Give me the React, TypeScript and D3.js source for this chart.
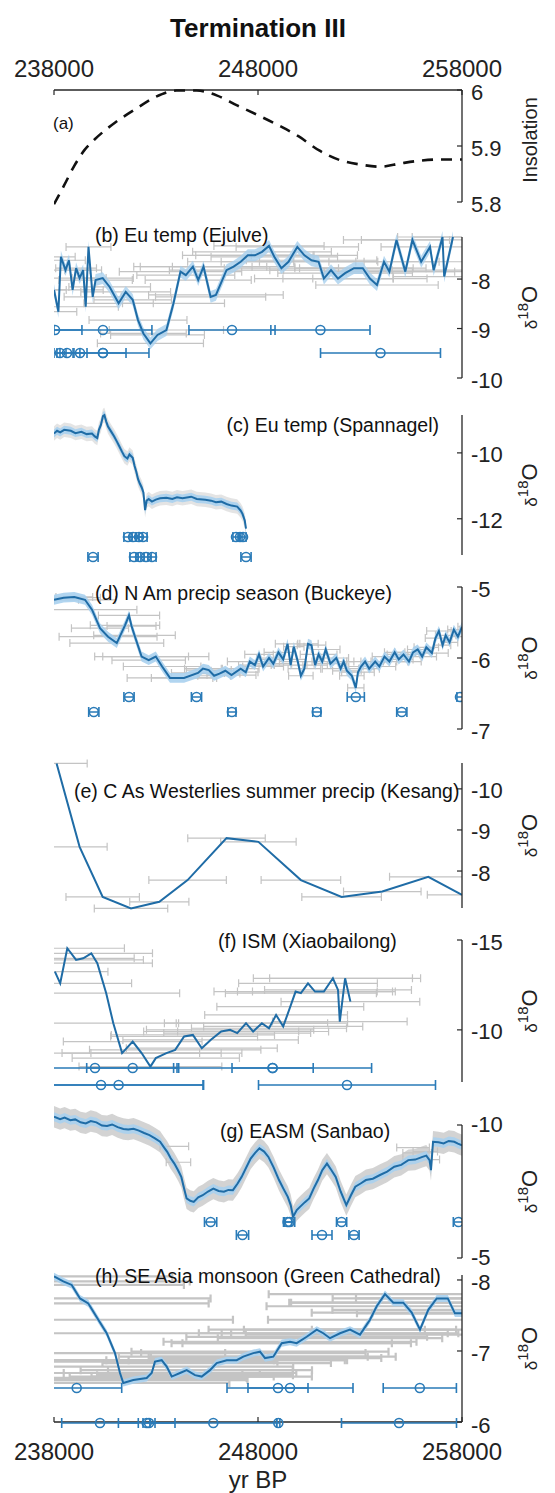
import React from 'react';
import * as d3 from 'd3';

type P = [number, number];
type E = [number, number, number];

// ---- data ----
const ageTicks = [238000, 248000, 258000];

// (a) insolation [age, value]
const insolation: P[] = [
  [238000, 5.796], [238500, 5.83], [239000, 5.865], [239500, 5.893], [240000, 5.912],
  [241000, 5.942], [242000, 5.966], [243000, 5.988], [244000, 5.999], [245000, 5.999],
  [246000, 5.99], [247000, 5.972], [248000, 5.955], [249000, 5.937], [250000, 5.917],
  [251000, 5.892], [252000, 5.875], [253000, 5.867], [254000, 5.863], [255000, 5.869],
  [256000, 5.874], [257000, 5.876], [258000, 5.876],
];

// (b) Ejulve [age, d18O, age error]
const ejulve: E[] = [
  [238000, -8.22, 600], [238216, -8.66, 900], [238338, -7.55, 700], [238564, -7.82, 1200],
  [238735, -7.62, 800], [238912, -8.22, 1500], [239083, -7.78, 1000], [239255, -7.98, 1300],
  [239431, -7.82, 900], [239554, -8.56, 1600], [239691, -7.35, 1100], [239897, -8.36, 1400],
  [240039, -8.02, 1800], [240387, -7.98, 1500], [240730, -8.16, 2000], [241167, -8.49, 1700],
  [241515, -8.26, 2200], [241858, -8.42, 1900], [242118, -8.83, 2400], [242383, -9.1, 2100],
  [242726, -9.3, 2600], [243074, -9.13, 2300], [243510, -9.03, 2800], [243858, -8.49, 2500],
  [244201, -7.85, 3000], [244461, -7.92, 2400], [244809, -7.75, 2900], [245069, -8.02, 2600],
  [245329, -7.75, 3100], [245677, -8.36, 2700], [245937, -8.32, 3300], [246456, -7.82, 2800],
  [246804, -7.75, 3000], [247152, -7.65, 2600], [247500, -7.52, 3200], [247848, -7.52, 2900],
  [248196, -7.45, 3400], [248539, -7.33, 2700], [248799, -7.55, 3100], [249147, -7.78, 2800],
  [249495, -7.65, 3300], [249927, -7.35, 3000], [250275, -7.52, 2600], [250623, -7.62, 3200],
  [250971, -7.65, 2900], [251231, -7.99, 3400], [251579, -7.82, 3000], [251922, -7.99, 2700],
  [252270, -7.88, 3300], [252706, -7.78, 2900], [253137, -7.78, 3100], [253485, -7.99, 2800],
  [253833, -8.12, 3000], [254177, -7.65, 2700], [254441, -7.85, 3200], [254789, -7.21, 2600],
  [255221, -7.85, 2900], [255569, -7.21, 2500], [255999, -7.65, 2800], [256432, -7.35, 2400],
  [256609, -7.82, 2600], [257044, -7.15, 2200], [257127, -7.95, 2500], [257559, -7.15, 2000],
];
// U-Th dates [age, error]
const ejulveDates1: P[] = [[238050, 1320], [240400, 2400], [246725, 2110], [251060, 2430]];
const ejulveDates2: P[] = [[238294, 294], [238637, 343], [239275, 343], [240400, 1130], [240400, 2255], [254005, 2940]];

// (c) Spannagel [age, d18O]
const spannagel: P[] = [
  [238000, -9.41], [238150, -9.33], [238304, -9.38], [238500, -9.3], [238824, -9.33],
  [239050, -9.4], [239343, -9.36], [239600, -9.43], [239863, -9.41], [240000, -9.5],
  [240123, -9.55], [240200, -9.3], [240299, -9.15], [240400, -8.88], [240471, -8.85],
  [240560, -9.05], [240647, -9.2], [240818, -9.37], [240950, -9.5], [241078, -9.65],
  [241200, -9.8], [241338, -9.97], [241450, -10.1], [241598, -10.17], [241700, -10.05],
  [241858, -10.15], [241950, -10.4], [242034, -10.57], [242120, -10.8], [242206, -10.93],
  [242300, -11.05], [242383, -11.2], [242466, -11.74], [242540, -11.45], [242642, -11.4],
  [242800, -11.48], [242990, -11.42], [243200, -11.38], [243510, -11.36], [243800, -11.4],
  [244029, -11.35], [244300, -11.38], [244725, -11.33], [245000, -11.4], [245417, -11.42],
  [245700, -11.45], [245937, -11.5], [246200, -11.48], [246456, -11.55], [246700, -11.6],
  [246981, -11.63], [247150, -11.75], [247241, -11.85], [247350, -12.05], [247412, -12.3],
];
const spannagelDates1: P[] = [[241627, 200], [241873, 150], [242167, 150], [242363, 200], [246922, 150], [247118, 100], [247265, 150]];
const spannagelDates2: P[] = [[239912, 250], [241922, 200], [242216, 200], [242510, 250], [242804, 200], [247412, 250]];

// (d) Buckeye [age, d18O, age error]
const buckeye: E[] = [
  [238000, -5.18, 1200], [238475, -5.15, 1800], [238995, -5.14, 900], [239520, -5.18, 1500],
  [239863, -5.32, 2200], [240255, -5.58, 1400], [240650, -5.7, 2400], [241078, -5.79, 2300],
  [241480, -5.54, 1700], [241677, -5.4, 1500], [241800, -5.55, 1200], [241946, -5.68, 2000],
  [242294, -5.98, 2300], [242642, -6.03, 1800], [242990, -5.98, 2600], [243300, -6.12, 1900],
  [243686, -6.28, 2100], [244373, -6.28, 1600], [245059, -6.21, 1300], [245300, -6.15, 900],
  [245588, -6.17, 1100], [245850, -6.25, 800], [246113, -6.22, 1000], [246400, -6.18, 700],
  [246700, -6.24, 1200], [247152, -6.15, 900], [247400, -6.2, 600], [247600, -6.05, 1100],
  [247848, -6.1, 800], [248050, -5.95, 700], [248250, -6.12, 1000], [248539, -6.0, 600],
  [248750, -6.08, 900], [249000, -5.92, 700], [249235, -6.02, 1100], [249450, -5.8, 600],
  [249600, -6.1, 800], [249755, -5.84, 500], [249950, -6.05, 900], [250100, -6.25, 600],
  [250275, -6.15, 800], [250450, -5.8, 500], [250623, -5.82, 700], [250800, -6.1, 600],
  [250971, -5.95, 900], [251150, -6.05, 500], [251319, -5.88, 700], [251550, -6.08, 800],
  [251839, -6.0, 600], [252050, -6.15, 900], [252200, -6.05, 500], [252358, -6.18, 700],
  [252600, -6.25, 600], [252794, -6.42, 400], [252900, -6.2, 800], [253049, -6.12, 600],
  [253250, -6.05, 900], [253450, -6.15, 500], [253745, -6.05, 700], [253950, -6.12, 800],
  [254200, -5.98, 600], [254441, -6.05, 900], [254700, -5.92, 500], [254900, -6.02, 700],
  [255133, -5.95, 800], [255400, -6.05, 600], [255600, -5.92, 900], [255829, -5.88, 500],
  [256050, -5.98, 700], [256250, -5.85, 600], [256525, -5.93, 800], [256700, -5.72, 500],
  [256868, -5.62, 600], [257050, -5.82, 400], [257200, -5.68, 500], [257392, -5.78, 400],
  [257600, -5.6, 300], [257800, -5.7, 300], [258000, -5.56, 200],
];
const buckeyeDates1: P[] = [[241677, 250], [244985, 250], [252794, 420], [257902, 150]];
const buckeyeDates2: P[] = [[239951, 250], [246721, 200], [250883, 200], [255049, 250]];

// (e) Kesang [age, d18O, age error]
const kesang: E[] = [
  [238127, -10.62, 1500], [239255, -8.59, 1350], [240387, -7.37, 1800], [241775, -7.09, 1800],
  [243162, -7.25, 1450], [244549, -7.78, 1900], [246456, -8.8, 1900], [248020, -8.71, 1850],
  [250103, -7.78, 1950], [252098, -7.37, 1950], [254093, -7.5, 1900], [256348, -7.86, 1900],
  [258000, -7.42, 1700],
];

// (f) Xiaobailong [age, d18O, age error]
const xiaobailong: E[] = [
  [238044, -13.24, 2600], [238304, -12.59, 3500], [238652, -14.54, 2800], [239083, -13.89, 3300],
  [239431, -13.98, 2500], [239828, -14.26, 3000], [240123, -13.71, 2700], [240559, -12.04, 3600],
  [240907, -10.37, 3200], [241338, -8.71, 3800], [241858, -9.35, 3400], [242294, -8.71, 3900],
  [242726, -7.96, 3500], [242990, -8.43, 4100], [243510, -8.71, 3700], [243941, -8.89, 4200],
  [244378, -9.63, 3600], [244809, -9.72, 4000], [245245, -8.98, 3700], [245677, -9.44, 4300],
  [246196, -9.91, 3800], [246632, -10.0, 4100], [246981, -9.82, 3600], [247412, -10.37, 4000],
  [247760, -9.91, 3700], [248191, -10.37, 4200], [248539, -10.09, 3800], [248887, -10.83, 3500],
  [249235, -10.19, 3900], [249583, -11.29, 3600], [249843, -12.13, 4000], [250103, -12.04, 3700],
  [250451, -12.59, 3400], [250794, -12.13, 3800], [251230, -12.13, 3500], [251672, -12.87, 3900],
  [251922, -12.22, 3600], [252010, -10.46, 3300], [252270, -12.87, 3700], [252530, -11.57, 3400],
];
const xiaobailongDates1: P[] = [[240010, 4020], [241858, 2255], [248716, 1990], [248716, 4853]];
const xiaobailongDates2: P[] = [[240304, 5000], [241167, 4167], [252363, 4338]];

// (g) Sanbao [age, d18O]
const sanbao: P[] = [
  [238000, -10.31], [238300, -10.22], [238520, -10.28], [238800, -10.18], [239040, -10.21],
  [239300, -10.1], [239560, -10.06], [239800, -10.15], [240080, -10.1], [240350, -9.98],
  [240600, -9.96], [240850, -10.02], [241120, -9.92], [241400, -9.85], [241640, -9.83],
  [241900, -9.86], [242160, -9.79], [242420, -9.7], [242680, -9.62], [242950, -9.5],
  [243200, -9.37], [243400, -9.15], [243550, -8.99], [243720, -8.75], [243900, -8.55],
  [244080, -8.3], [244240, -8.05], [244380, -7.6], [244500, -7.24], [244680, -7.15],
  [244850, -7.11], [245070, -7.28], [245290, -7.36], [245550, -7.5], [245810, -7.61],
  [246070, -7.52], [246330, -7.49], [246550, -7.56], [246770, -7.55], [247000, -7.8],
  [247200, -8.05], [247420, -8.4], [247640, -8.74], [247860, -8.95], [248070, -9.12],
  [248300, -9.0], [248510, -8.8], [248770, -8.4], [249030, -7.93], [249250, -7.6],
  [249460, -7.3], [249600, -7.0], [249720, -6.55], [249900, -6.8], [250070, -6.93],
  [250300, -7.1], [250510, -7.24], [250720, -7.6], [250940, -7.93], [251150, -8.3],
  [251380, -8.55], [251600, -8.3], [251810, -8.05], [252050, -7.5], [252330, -6.99],
  [252550, -7.35], [252770, -7.68], [253030, -7.8], [253290, -7.93], [253630, -7.98],
  [253980, -8.12], [254330, -8.25], [254680, -8.43], [255020, -8.5], [255370, -8.68],
  [255710, -8.7], [256060, -8.8], [256250, -8.85], [256410, -8.68], [256480, -8.3],
  [256580, -9.37], [256850, -9.35], [257100, -9.31], [257350, -9.4], [257620, -9.37],
  [257800, -9.3], [258000, -9.24],
];
const sanbaoBars: E[] = [[255600, -9.15, 800], [255800, -8.95, 700], [256000, -8.7, 900], [256200, -9.0, 600], [243900, -9.2, 700], [244100, -8.6, 600]];
const sanbaoDates1: P[] = [[245677, 300], [249450, 200], [249550, 250], [252098, 250], [257824, 250]];
const sanbaoDates2: P[] = [[247240, 300], [251137, 490], [252706, 250]];

// (h) Green Cathedral [age, d18O, age error]
const greenCathedral: E[] = [
  [238000, -8.05, 5800], [238456, -7.98, 6200], [238868, -7.93, 5500], [239275, -7.74, 6400],
  [239681, -7.67, 5900], [240172, -7.44, 6600], [240583, -7.25, 6100], [240990, -6.97, 5400],
  [241235, -6.69, 6000], [241397, -6.55, 5200], [241887, -6.59, 5600], [242544, -6.62, 4900],
  [242789, -6.69, 5300], [242951, -6.85, 6000], [243279, -6.87, 5500], [243525, -6.78, 6200],
  [243770, -6.64, 5000], [244177, -6.69, 5700], [244505, -6.73, 5200], [244912, -6.66, 4800],
  [245240, -6.64, 5400], [245647, -6.73, 5000], [245975, -6.83, 5600], [246466, -6.87, 5900],
  [246956, -6.87, 5300], [247279, -6.92, 6100], [247770, -6.97, 5500], [248098, -6.99, 6300],
  [248343, -6.9, 5700], [248750, -6.92, 6000], [249162, -7.11, 5400], [249569, -7.13, 6200],
  [249897, -7.11, 5600], [250388, -7.2, 5900], [250878, -7.3, 5300], [251201, -7.25, 6100],
  [251530, -7.18, 5500], [252020, -7.25, 5800], [252510, -7.3, 5200], [253000, -7.23, 5600],
  [253490, -7.44, 5000], [253819, -7.63, 5400], [254225, -7.8, 5700], [254632, -7.68, 5100],
  [255122, -7.68, 5500], [255534, -7.54, 4900], [255941, -7.3, 5300], [256348, -7.58, 4700],
  [256760, -7.74, 5100], [257304, -7.74, 4500], [257652, -7.53, 4800], [258000, -7.53, 4400],
];
const greenDates1: P[] = [[239113, 2206], [248980, 1471], [249569, 3088], [255932, 1794]];
const greenDates2: P[] = [[240255, 1877], [242544, 1387], [242657, 294], [245809, 3108], [248995, 78], [254912, 2819]];

// ---- styling / layout ----
const W = 555;
const H = 1493;
const X0 = 54;
const X1 = 462;
const BLUE = '#1f6ca6';
const MARK = '#2a7bb8';
const HALO = '#a8d0ee';
const GREY = '#c4c4c4';
const AX = '#262626';
const FONT = '"Liberation Sans", Arial, Helvetica, sans-serif';
const TICK_FS = 22;

const x = d3.scaleLinear().domain([238000, 258000]).range([X0, X1]);

type Scale = d3.ScaleLinear<number, number>;

function linePath(data: (P | E)[], y: Scale, curve = d3.curveLinear) {
  return d3.line<P | E>().x(d => x(d[0])).y(d => y(d[1])).curve(curve)(data) || '';
}

function bandPath(data: (P | E)[], y: Scale, half: number) {
  return d3.area<P | E>().x(d => x(d[0])).y0(d => y(d[1] - half)).y1(d => y(d[1] + half))(data) || '';
}

const ErrBars = ({ data, y, w = 1.2 }: { data: E[]; y: Scale; w?: number }) => (
  <g stroke={GREY} strokeWidth={w} fill="none">
    {data.map(([a, v, e], i) => {
      const yy = y(v);
      const xa = x(a - e);
      const xb = x(a + e);
      return <path key={i} d={`M${xa},${yy}H${xb}M${xa},${yy - 4}V${yy + 4}M${xb},${yy - 4}V${yy + 4}`} />;
    })}
  </g>
);

const Dates = ({ data, yPix }: { data: P[]; yPix: number }) => (
  <g stroke={MARK} strokeWidth={1.6} fill="none">
    {data.map(([a, e], i) => {
      const xa = x(a - e);
      const xb = x(a + e);
      return (
        <g key={i}>
          <path d={`M${xa},${yPix}H${xb}M${xa},${yPix - 5}V${yPix + 5}M${xb},${yPix - 5}V${yPix + 5}`} />
          <circle cx={x(a)} cy={yPix} r={4.5} />
        </g>
      );
    })}
  </g>
);

interface Panel {
  label: string;
  lx: number;
  ly: number;
  anchor?: 'start' | 'end';
  domain: [number, number];
  range: [number, number];
  ticks: number[];
  labelDy?: number;
  fmt?: (v: number) => string;
  ylabel: 'ins' | 'd18o';
}

const panels: Panel[] = [
  { label: '(a)', lx: 53, ly: 129, domain: [5.8, 6], range: [202, 90], ticks: [5.8, 5.9, 6], fmt: v => (v === 6 ? '6' : v.toFixed(1)), ylabel: 'ins' },
  { label: '(b) Eu temp (Ejulve)', lx: 95, ly: 242, domain: [-10, -7.15], range: [378, 237], ticks: [-10, -9, -8], ylabel: 'd18o' },
  { label: '(c) Eu temp (Spannagel)', lx: 439, ly: 432, anchor: 'end', domain: [-13.1, -8.85], range: [555, 415], ticks: [-12, -10], ylabel: 'd18o' },
  { label: '(d) N Am precip season (Buckeye)', lx: 95, ly: 600, domain: [-7, -5], range: [729, 587], ticks: [-7, -6, -5], ylabel: 'd18o' },
  { label: '(e) C As Westerlies summer precip (Kesang)', lx: 74, ly: 798, domain: [-10.63, -7.1], range: [763, 908], ticks: [-10, -9, -8], ylabel: 'd18o' },
  { label: '(f) ISM (Xiaobailong)', lx: 218, ly: 948, domain: [-15, -7.1], range: [940, 1082], ticks: [-15, -10], ylabel: 'd18o' },
  { label: '(g) EASM (Sanbao)', lx: 220, ly: 1138, domain: [-10, -5], range: [1125, 1258], ticks: [-10, -5], labelDy: -3, ylabel: 'd18o' },
  { label: '(h) SE Asia monsoon (Green Cathedral)', lx: 95, ly: 1283, domain: [-8.07, -6], range: [1275, 1422], ticks: [-8, -7, -6], labelDy: 1, ylabel: 'd18o' },
];

const scales = panels.map(p => d3.scaleLinear().domain(p.domain).range(p.range));

const App: React.FC = () => {
  const [ya, yb, yc, yd, ye, yf, yg, yh] = scales;

  return (
    <svg width={W} height={H} style={{ position: 'absolute', left: 0, top: 0, background: '#fff' }} fontFamily={FONT}>
      <defs>
        <clipPath id="plotClip">
          <rect x={X0} y={0} width={X1 - X0} height={H} />
        </clipPath>
      </defs>

      <text x={258} y={37} textAnchor="middle" fontSize={26} fontWeight="bold" fill="#111">Termination III</text>

      {/* top and bottom age axes */}
      <path d={`M${X0},90H${X1}`} stroke={AX} strokeWidth={1.3} />
      <path d={`M${X0},1422H${X1}`} stroke={AX} strokeWidth={1.3} />
      {ageTicks.map(t => (
        <g key={t}>
          <path d={`M${x(t)},90v5M${x(t)},1422v-5`} stroke={AX} strokeWidth={1.2} />
          <text x={x(t)} y={77} textAnchor="middle" fontSize={24} fill="#222">{t}</text>
          <text x={x(t)} y={1460} textAnchor="middle" fontSize={24} fill="#222">{t}</text>
        </g>
      ))}
      <text x={258} y={1488} textAnchor="middle" fontSize={24} fill="#222">yr BP</text>

      <g clipPath="url(#plotClip)">
        {/* (a) */}
        <path d={linePath(insolation, ya, d3.curveMonotoneX)} fill="none" stroke="#111" strokeWidth={2.6} strokeDasharray="11 8" />

        {/* (b) */}
        <ErrBars data={ejulve} y={yb} />
        <path d={bandPath(ejulve, yb, 0.12)} fill={HALO} opacity={0.8} />
        <path d={linePath(ejulve, yb)} fill="none" stroke={BLUE} strokeWidth={2} />
        <Dates data={ejulveDates1} yPix={330} />
        <Dates data={ejulveDates2} yPix={353} />

        {/* (c) */}
        <path d={bandPath(spannagel, yc, 0.22)} fill={GREY} opacity={0.45} />
        <path d={bandPath(spannagel, yc, 0.12)} fill={HALO} opacity={0.9} />
        <path d={linePath(spannagel, yc)} fill="none" stroke={BLUE} strokeWidth={2} />
        <Dates data={spannagelDates1} yPix={537} />
        <Dates data={spannagelDates2} yPix={557} />

        {/* (d) */}
        <ErrBars data={buckeye} y={yd} />
        <path d={bandPath(buckeye, yd, 0.07)} fill={HALO} opacity={0.9} />
        <path d={linePath(buckeye, yd)} fill="none" stroke={BLUE} strokeWidth={2} />
        <Dates data={buckeyeDates1} yPix={697} />
        <Dates data={buckeyeDates2} yPix={712} />

        {/* (e) */}
        <ErrBars data={kesang} y={ye} />
        <path d={linePath(kesang, ye)} fill="none" stroke={BLUE} strokeWidth={2} />

        {/* (f) */}
        <ErrBars data={xiaobailong} y={yf} />
        <path d={linePath(xiaobailong, yf)} fill="none" stroke={BLUE} strokeWidth={2} />
        <Dates data={xiaobailongDates1} yPix={1068} />
        <Dates data={xiaobailongDates2} yPix={1085} />

        {/* (g) */}
        <path d={bandPath(sanbao, yg, 0.4)} fill={GREY} opacity={0.75} />
        <ErrBars data={sanbaoBars} y={yg} />
        <path d={bandPath(sanbao, yg, 0.17)} fill={HALO} opacity={0.9} />
        <path d={linePath(sanbao, yg)} fill="none" stroke={BLUE} strokeWidth={2} />
        <Dates data={sanbaoDates1} yPix={1222} />
        <Dates data={sanbaoDates2} yPix={1235} />

        {/* (h) */}
        <ErrBars data={greenCathedral} y={yh} w={2.2} />
        <path d={bandPath(greenCathedral, yh, 0.05)} fill={HALO} opacity={0.9} />
        <path d={linePath(greenCathedral, yh)} fill="none" stroke={BLUE} strokeWidth={2} />
        <Dates data={greenDates1} yPix={1388} />
        <Dates data={greenDates2} yPix={1423} />
      </g>

      {/* right axes, labels */}
      {panels.map((p, i) => {
        const y = scales[i];
        const mid = (p.range[0] + p.range[1]) / 2;
        return (
          <g key={p.label}>
            <path d={`M${X1},${p.range[0]}V${p.range[1]}`} stroke={AX} strokeWidth={1.3} />
            {p.ticks.map(t => (
              <g key={t}>
                <path d={`M${X1},${y(t)}h-5`} stroke={AX} strokeWidth={1.2} />
                <text x={471} y={y(t) + 9.5 + (p.labelDy || 0)} fontSize={TICK_FS} fill="#222">{p.fmt ? p.fmt(t) : String(t)}</text>
              </g>
            ))}
            <text x={p.lx} y={p.ly} fontSize={i === 0 ? 17 : 19.5} textAnchor={p.anchor || 'start'} fill="#111">{p.label}</text>
            {p.ylabel === 'ins' ? (
              <text transform={`translate(537,140) rotate(-90)`} textAnchor="middle" fontSize={20} fill="#222">Insolation</text>
            ) : (
              <text transform={`translate(537,${mid}) rotate(-90)`} textAnchor="middle" fill="#222">
                <tspan fontSize={17}>δ</tspan>
                <tspan fontSize={15} dy={-9}>18</tspan>
                <tspan fontSize={22} dy={9}>O</tspan>
              </text>
            )}
          </g>
        );
      })}
    </svg>
  );
};

export default App;
